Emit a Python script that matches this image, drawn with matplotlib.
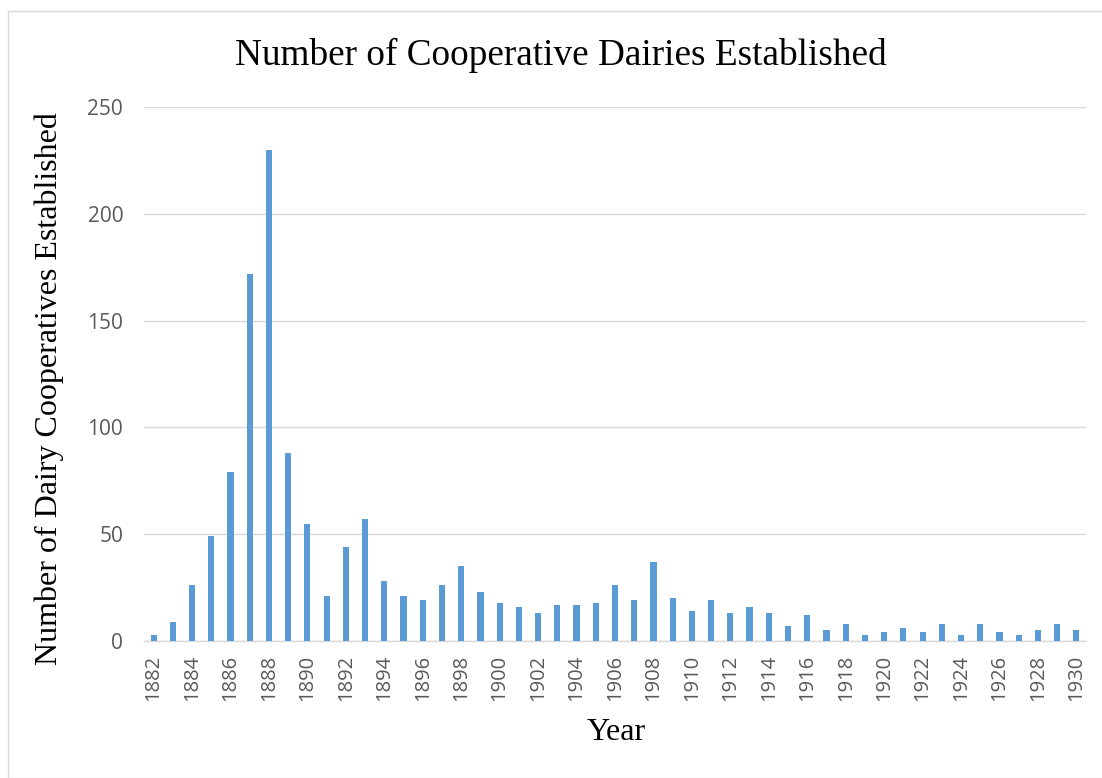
import matplotlib
matplotlib.use("Agg")
import matplotlib.pyplot as plt
from matplotlib.patches import Rectangle

years = list(range(1882, 1931))
counts = [3, 9, 26, 49, 79, 172, 230, 88, 55, 21,
          44, 57, 28, 21, 19, 26, 35, 23, 18, 16,
          13, 17, 17, 18, 26, 19, 37, 20, 14, 19,
          13, 16, 13, 7, 12, 5, 8, 3, 4, 6,
          4, 8, 3, 8, 4, 3, 5, 8, 5]
yticks = [0, 50, 100, 150, 200, 250]

W, H = 1102, 778
fig = plt.figure(figsize=(W / 100, H / 100), dpi=100)
fig.patches.append(Rectangle((8 / W, 0), 1.2, (H - 11) / H, transform=fig.transFigure,
                             fill=False, edgecolor="#D9D9D9", linewidth=1.0))

ax = fig.add_axes([144 / W, (H - 641) / H, (1086 - 144) / W, (641 - 107) / H])
x = list(range(len(years)))
ax.bar(x, counts, width=0.32, color="#5B9BD5", zorder=3)
ax.set_xlim(-0.5, len(years) - 0.5)
ax.set_ylim(0, 250)
ax.set_yticks(yticks)
ax.set_yticklabels([str(v) for v in yticks], fontsize=15, color="#595959", family="Open Sans")
ax.set_xticks(x[::2])
ax.set_xticklabels([str(y) for y in years[::2]], rotation=90, fontsize=14.5,
                   color="#595959", family="Open Sans")
ax.tick_params(axis="y", length=0, pad=15)
ax.tick_params(axis="x", length=0, pad=10)
ax.grid(axis="y", color="#D9D9D9", linewidth=1.0, zorder=0)
for s in ["top", "right", "left"]:
    ax.spines[s].set_visible(False)
ax.spines["bottom"].set_color("#D9D9D9")
ax.spines["bottom"].set_linewidth(1.0)

fig.text(561 / W, 1 - 55 / H, "Number of Cooperative Dairies Established", ha="center", va="center",
         fontsize=26.8, family="Liberation Serif", color="black")
fig.text(49 / W, 1 - 389 / H, "Number of Dairy Cooperatives Established", ha="center", va="center",
         rotation=90, fontsize=23, family="Liberation Serif", color="black")
fig.text(616 / W, 1 - 733 / H, "Year", ha="center", va="center",
         fontsize=23, family="Liberation Serif", color="black")

fig.savefig("out.png", dpi=100, facecolor="white")
